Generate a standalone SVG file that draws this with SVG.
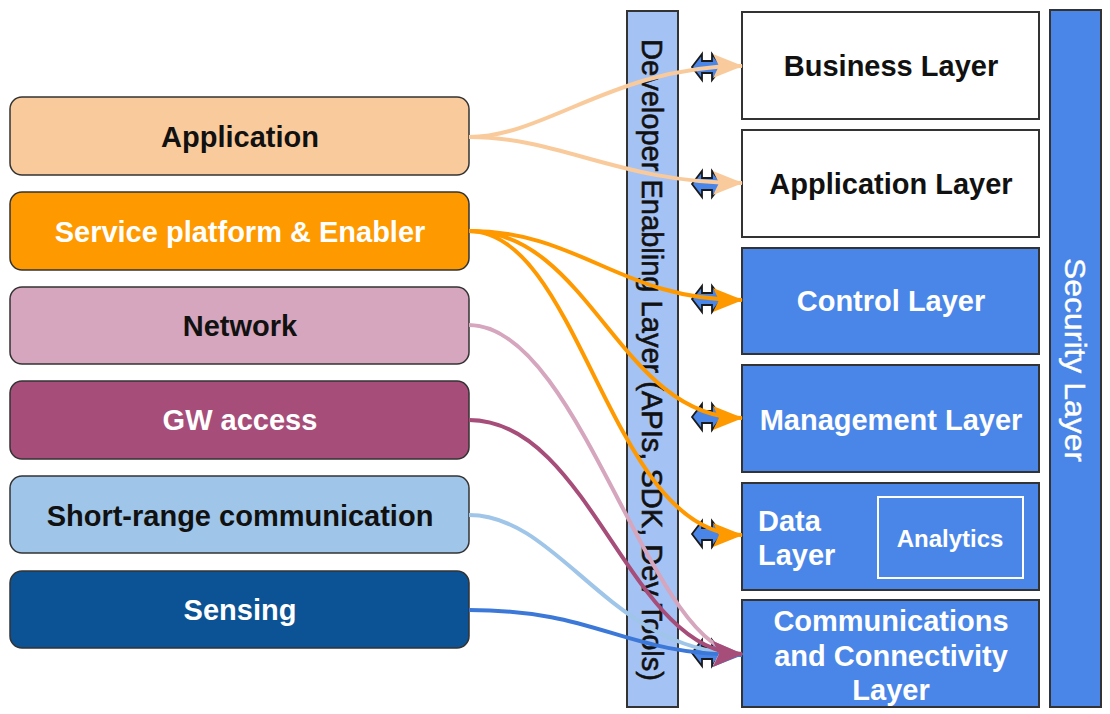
<svg xmlns="http://www.w3.org/2000/svg" width="1110" height="714" viewBox="0 0 1110 714">
  <style>
    .lbox { stroke: #333333; stroke-width: 1.5; }
    .rbox { stroke: #333333; stroke-width: 2; }
    .t { font-family: "Liberation Sans", Arial, sans-serif; font-weight: bold; font-size: 29px; text-anchor: middle; }
    .dark { fill: #111111; }
    .light { fill: #ffffff; }
    .conn { fill: none; stroke-width: 4; }
    .icon { fill: #4a86e8; stroke: #1a1a1a; stroke-width: 1.8; stroke-linejoin: miter; }
  </style>
  <defs>
    <marker id="a-app" markerUnits="userSpaceOnUse" viewBox="0 0 30 24" markerWidth="30" markerHeight="24" refX="29" refY="12" orient="auto"><path d="M0,0 L30,12 L0,24 L6,12 Z" fill="#f9cb9c"/></marker>
    <marker id="a-svc" markerUnits="userSpaceOnUse" viewBox="0 0 30 24" markerWidth="30" markerHeight="24" refX="29" refY="12" orient="auto"><path d="M0,0 L30,12 L0,24 L6,12 Z" fill="#ff9900"/></marker>
    <marker id="a-net" markerUnits="userSpaceOnUse" viewBox="0 0 30 24" markerWidth="30" markerHeight="24" refX="29" refY="12" orient="auto"><path d="M0,0 L30,12 L0,24 L6,12 Z" fill="#d5a6bd"/></marker>
    <marker id="a-gw" markerUnits="userSpaceOnUse" viewBox="0 0 30 26" markerWidth="30" markerHeight="26" refX="29" refY="13" orient="auto"><path d="M0,0 L30,13 L0,26 L6,13 Z" fill="#a64d79"/></marker>
    <marker id="a-sr" markerUnits="userSpaceOnUse" viewBox="0 0 30 24" markerWidth="30" markerHeight="24" refX="29" refY="12" orient="auto"><path d="M0,0 L30,12 L0,24 L6,12 Z" fill="#9fc5e8"/></marker>
    <marker id="a-sen" markerUnits="userSpaceOnUse" viewBox="0 0 30 24" markerWidth="30" markerHeight="24" refX="29" refY="12" orient="auto"><path d="M0,0 L30,12 L0,24 L6,12 Z" fill="#3c78d8"/></marker>
    <path id="dbl" class="icon" d="M-15,0 L-5,-13 L-5,-6 L5,-6 L5,-13 L15,0 L5,13 L5,6 L-5,6 L-5,13 Z"/>
  </defs>

  <rect width="1110" height="714" fill="#ffffff"/>

  <!-- Left nodes -->
  <g id="node-application">
    <rect class="lbox" x="10" y="97" width="459" height="78" rx="12" fill="#f9cb9c"/>
    <text class="t dark" x="240" y="147">Application</text>
  </g>
  <g id="node-service">
    <rect class="lbox" x="10" y="192" width="459" height="78" rx="12" fill="#ff9900"/>
    <text class="t light" x="240" y="242">Service platform &amp; Enabler</text>
  </g>
  <g id="node-network">
    <rect class="lbox" x="10" y="287" width="459" height="77" rx="12" fill="#d5a6bd"/>
    <text class="t dark" x="240" y="336">Network</text>
  </g>
  <g id="node-gw">
    <rect class="lbox" x="10" y="381" width="459" height="78" rx="12" fill="#a64d79"/>
    <text class="t light" x="240" y="430">GW access</text>
  </g>
  <g id="node-shortrange">
    <rect class="lbox" x="10" y="476" width="459" height="77" rx="12" fill="#9fc5e8"/>
    <text class="t dark" x="240" y="526">Short-range communication</text>
  </g>
  <g id="node-sensing">
    <rect class="lbox" x="10" y="571" width="459" height="77" rx="12" fill="#0b5394"/>
    <text class="t light" x="240" y="620">Sensing</text>
  </g>

  <!-- Developer enabling layer -->
  <g id="node-developer">
    <rect class="rbox" x="627" y="11" width="51" height="696" fill="#a4c2f4"/>
    <text transform="translate(652,360) rotate(90)" x="0" y="0" dominant-baseline="central" text-anchor="middle" font-family="Liberation Sans, Arial, sans-serif" font-size="29" fill="#111111" stroke="#111111" stroke-width="0.6" textLength="642" lengthAdjust="spacingAndGlyphs">Developer Enabling Layer (APIs, SDK, Dev Tools)</text>
  </g>

  <!-- Right layers -->
  <g id="node-business">
    <rect class="rbox" x="742" y="12" width="297" height="107" fill="#ffffff"/>
    <text class="t dark" x="891" y="76">Business Layer</text>
  </g>
  <g id="node-applayer">
    <rect class="rbox" x="742" y="130" width="297" height="107" fill="#ffffff"/>
    <text class="t dark" x="891" y="194">Application Layer</text>
  </g>
  <g id="node-control">
    <rect class="rbox" x="742" y="248" width="297" height="106" fill="#4a86e8"/>
    <text class="t light" x="891" y="311">Control Layer</text>
  </g>
  <g id="node-management">
    <rect class="rbox" x="742" y="365" width="297" height="107" fill="#4a86e8"/>
    <text class="t light" x="891" y="430">Management Layer</text>
  </g>
  <g id="node-data">
    <rect class="rbox" x="742" y="483" width="297" height="107" fill="#4a86e8"/>
    <text class="t light" x="758" y="531" style="text-anchor:start">Data</text>
    <text class="t light" x="758" y="565" style="text-anchor:start">Layer</text>
  </g>
  <g id="node-analytics">
    <rect x="878" y="497" width="145" height="81" fill="none" stroke="#ffffff" stroke-width="2"/>
    <text class="t light" x="950" y="547" style="font-size:24px">Analytics</text>
  </g>
  <g id="node-comm">
    <rect class="rbox" x="742" y="600" width="297" height="107" fill="#4a86e8"/>
    <text class="t light" x="891" y="631">Communications</text>
    <text class="t light" x="891" y="666">and Connectivity</text>
    <text class="t light" x="891" y="700">Layer</text>
  </g>

  <!-- Security layer -->
  <g id="node-security">
    <rect class="rbox" x="1050" y="10" width="51" height="697" fill="#4a86e8"/>
    <text transform="translate(1075,360) rotate(90)" x="0" y="0" dominant-baseline="central" text-anchor="middle" font-family="Liberation Sans, Arial, sans-serif" font-size="30" fill="#ffffff" stroke="#ffffff" stroke-width="0.4" textLength="204" lengthAdjust="spacingAndGlyphs">Security Layer</text>
  </g>

  <!-- Double arrow icons -->
  <g id="icons">
    <use href="#dbl" x="707" y="67"/>
    <use href="#dbl" x="707" y="184"/>
    <use href="#dbl" x="707" y="299"/>
    <use href="#dbl" x="707" y="417"/>
    <use href="#dbl" x="707" y="534"/>
    <use href="#dbl" x="707" y="653"/>
  </g>

  <!-- Connectors -->
  <g id="connectors">
    <path class="conn" stroke="#f9cb9c" stroke-width="4.5" d="M469,137 C545,137 615,66 742,66" marker-end="url(#a-app)"/>
    <path class="conn" stroke="#f9cb9c" stroke-width="4.5" d="M469,137 C560,137 620,183 742,183" marker-end="url(#a-app)"/>
    <path class="conn" stroke="#ff9900" d="M469,231 C580,231 620,300 742,300" marker-end="url(#a-svc)"/>
    <path class="conn" stroke="#ff9900" d="M469,231 C590,231 620,418 742,418" marker-end="url(#a-svc)"/>
    <path class="conn" stroke="#ff9900" d="M469,231 C580,231 610,535 742,535" marker-end="url(#a-svc)"/>
    <path class="conn" stroke="#9fc5e8" d="M469,515 C560,515 610,652 742,654" marker-end="url(#a-sr)"/>
    <path class="conn" stroke="#3c78d8" d="M469,610 C600,610 620,654 742,655" marker-end="url(#a-sen)"/>
    <path class="conn" stroke="#d5a6bd" d="M469,325 C580,325 650,652 742,654" marker-end="url(#a-net)"/>
    <path class="conn" stroke="#a64d79" d="M469,420 C590,420 630,654 742,654" marker-end="url(#a-gw)"/>
  </g>
</svg>
